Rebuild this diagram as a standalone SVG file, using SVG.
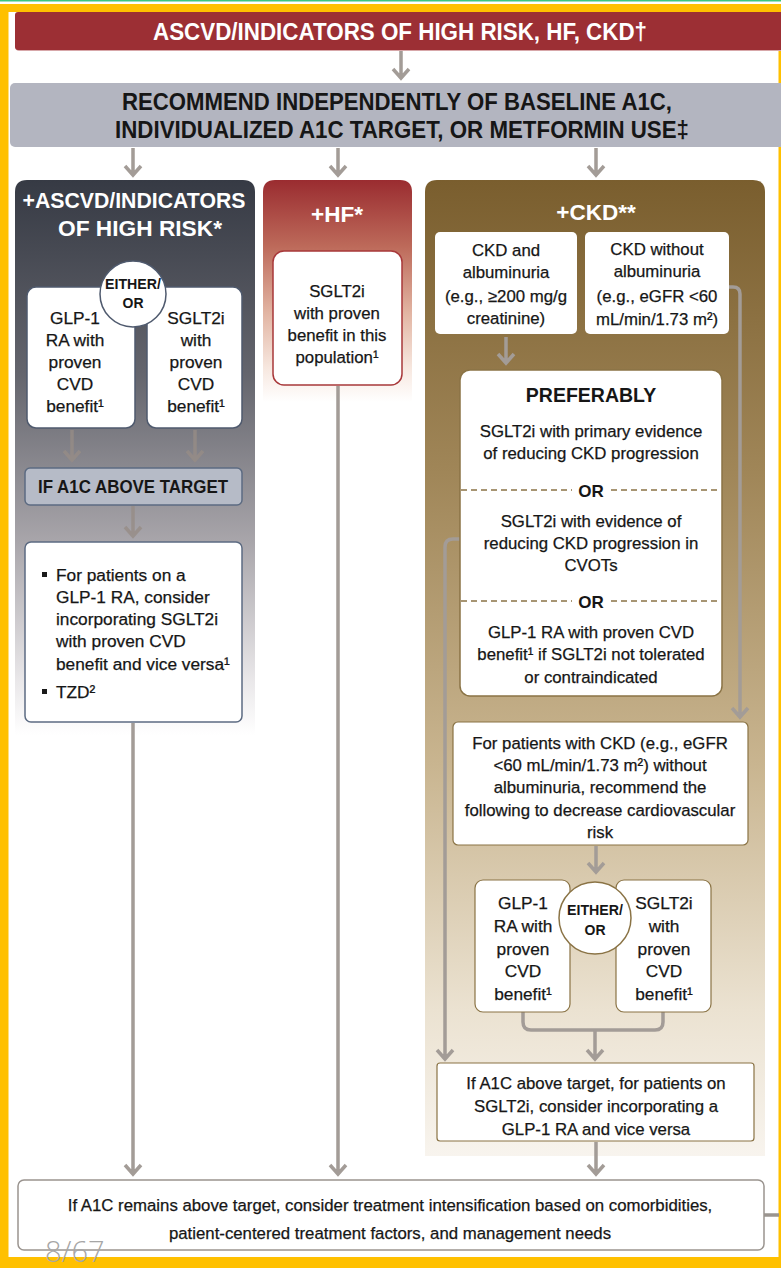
<svg xmlns="http://www.w3.org/2000/svg" width="781" height="1268" viewBox="0 0 781 1268">
<defs>
<linearGradient id="gL" x1="0" y1="0" x2="0" y2="1">
<stop offset="0" stop-color="#363a44"/><stop offset="0.35" stop-color="#64656d"/><stop offset="0.65" stop-color="#a8a5aa"/><stop offset="0.9" stop-color="#e9e7e9"/><stop offset="1" stop-color="#ffffff"/>
</linearGradient>
<linearGradient id="gM" x1="0" y1="0" x2="0" y2="1">
<stop offset="0" stop-color="#9a2c30"/><stop offset="0.3" stop-color="#bd6a5a"/><stop offset="0.6" stop-color="#e2b5a3"/><stop offset="0.85" stop-color="#f7e8e0"/><stop offset="1" stop-color="#ffffff"/>
</linearGradient>
<linearGradient id="gR" x1="0" y1="0" x2="0" y2="1">
<stop offset="0" stop-color="#7a5e2e"/><stop offset="0.3" stop-color="#a08658"/><stop offset="0.6" stop-color="#c9b590"/><stop offset="0.85" stop-color="#ebe2d1"/><stop offset="1" stop-color="#f8f4ee"/>
</linearGradient>
</defs>
<style>
text{font-family:"Liberation Sans",Arial,Helvetica,sans-serif;fill:#161616;}
.t{font-size:16.8px;text-anchor:middle;stroke:#161616;stroke-width:0.25px;}
.tl{font-size:17.3px;stroke:#161616;stroke-width:0.25px;}
.tb{font-size:17.3px;text-anchor:middle;stroke:#161616;stroke-width:0.25px;}
.b{font-weight:bold;}
.w{fill:#ffffff;font-weight:bold;text-anchor:middle;font-size:22.5px;}
.h{font-weight:bold;font-size:23px;text-anchor:middle;}
.c{font-weight:bold;font-size:14px;text-anchor:middle;}
.arr{fill:none;stroke:#a39c97;stroke-width:3.5;}
.arrd{fill:none;stroke:#968c86;stroke-width:3.5;opacity:0.8;}
.ln{fill:none;stroke:#a39c97;stroke-width:3.5;}
.dash{stroke:#8a7345;stroke-width:1.5;stroke-dasharray:6,4;}
</style>

<!-- frame -->
<rect x="0" y="0" width="781" height="1.5" fill="#3ec47e"/>
<rect x="0" y="4" width="781" height="8" fill="#ffc000"/>
<rect x="0" y="4" width="8.5" height="1264" fill="#ffc000"/>
<rect x="778.5" y="4" width="2.5" height="1264" fill="#ffc000"/>
<rect x="0" y="1257" width="781" height="11" fill="#ffc000"/>

<g id="top">
<rect x="16" y="13" width="770" height="38" rx="3" fill="#d7a7a9"/>
<rect x="15" y="12" width="770" height="38" rx="3" fill="#9c2f34"/>
<text class="h" x="400" y="40" style="fill:#ffffff" textLength="494" lengthAdjust="spacingAndGlyphs">ASCVD/INDICATORS OF HIGH RISK, HF, CKD†</text>
</g>

<g id="recommend">
<rect x="10" y="83" width="775" height="64" rx="5" fill="#b3b5c0"/>
<text class="h" x="397" y="110" textLength="550" lengthAdjust="spacingAndGlyphs">RECOMMEND INDEPENDENTLY OF BASELINE A1C,</text>
<text class="h" x="402" y="138" textLength="574" lengthAdjust="spacingAndGlyphs">INDIVIDUALIZED A1C TARGET, OR METFORMIN USE‡</text>
</g>

<!-- panels -->
<g id="panel-ascvd">
<path d="M15,735 V192 Q15,180 27,180 H243 Q255,180 255,192 V735 Z" fill="url(#gL)"/>
<text class="w" x="134" y="208" textLength="223" lengthAdjust="spacingAndGlyphs">+ASCVD/INDICATORS</text>
<text class="w" x="140" y="236" textLength="164" lengthAdjust="spacingAndGlyphs">OF HIGH RISK*</text>
</g>
<g id="panel-hf">
<path d="M263,402 V192 Q263,180 275,180 H400 Q412,180 412,192 V402 Z" fill="url(#gM)"/>
<text class="w" x="337" y="222">+HF*</text>
</g>
<g id="panel-ckd">
<path d="M425,1156 V192 Q425,180 437,180 H753 Q765,180 765,192 V1156 Z" fill="url(#gR)"/>
<text class="w" x="596" y="220">+CKD**</text>
</g>

<g id="connectors">
<path class="arr" d="M401,51 V78 M393,69 L401,78 L409,69"/>
<path class="arr" d="M133,148 V175 M125,166 L133,175 L141,166"/>
<path class="arr" d="M338,148 V175 M330,166 L338,175 L346,166"/>
<path class="arr" d="M596,148 V175 M588,166 L596,175 L604,166"/>
<path class="arrd" d="M72,430 V460 M64,451 L72,460 L80,451"/>
<path class="arrd" d="M195,430 V460 M187,451 L195,460 L203,451"/>
<path class="arrd" d="M133,506 V536 M125,527 L133,536 L141,527"/>
<path class="ln" d="M133,723 V1174 M125,1165 L133,1174 L141,1165"/>
<path class="ln" d="M338,386 V1174 M330,1165 L338,1174 L346,1165"/>
<path class="arr" d="M506,337 V363 M498,354 L506,363 L514,354"/>
<path class="ln" d="M729,287 H733 Q740,287 740,294 V717 M732,708 L740,717 L748,708"/>
<path class="ln" d="M460,539 H453 Q445,539 445,547 V1059 M437,1050 L445,1059 L453,1050"/>
<path class="arr" d="M596,846 V872 M588,863 L596,872 L604,863"/>
<path class="ln" d="M523,1012 V1022 Q523,1030 531,1030 H655 Q663,1030 663,1022 V1012"/>
<path class="arr" d="M595,1030 V1059 M587,1050 L595,1059 L603,1050"/>
<path class="ln" d="M596,1142 V1174 M588,1165 L596,1174 L604,1165"/>
<path class="ln" d="M764,1215 H779" style="stroke:#9a948f"/>
</g>

<g id="ascvd-glp1">
<rect x="27" y="287" width="108" height="141" rx="9" fill="#ffffff" stroke="#4f5a6e" stroke-width="1.5"/>
<text class="tb" x="75" y="324">GLP-1</text>
<text class="tb" x="75" y="346">RA with</text>
<text class="tb" x="75" y="368">proven</text>
<text class="tb" x="75" y="390">CVD</text>
<text class="tb" x="75" y="412">benefit¹</text>
</g>
<g id="ascvd-sglt2i">
<rect x="147" y="287" width="95" height="141" rx="9" fill="#ffffff" stroke="#4f5a6e" stroke-width="1.5"/>
<text class="tb" x="196" y="324">SGLT2i</text>
<text class="tb" x="196" y="346">with</text>
<text class="tb" x="196" y="368">proven</text>
<text class="tb" x="196" y="390">CVD</text>
<text class="tb" x="196" y="412">benefit¹</text>
</g>
<g id="ascvd-either">
<circle cx="133" cy="294" r="33" fill="#ffffff" stroke="#4f5a6e" stroke-width="1.5"/>
<text class="c" x="133" y="289" textLength="56" lengthAdjust="spacingAndGlyphs">EITHER/</text>
<text class="c" x="133" y="308">OR</text>
</g>
<g id="ascvd-if">
<rect x="25" y="468" width="217" height="37" rx="5" fill="#b6bbc7" stroke="#5c6b82" stroke-width="1.5"/>
<text class="b" x="133" y="493" style="font-size:17.5px;text-anchor:middle" textLength="190" lengthAdjust="spacingAndGlyphs">IF A1C ABOVE TARGET</text>
</g>
<g id="ascvd-options">
<rect x="25" y="542" width="217" height="180" rx="6" fill="#ffffff" stroke="#5c6b82" stroke-width="1.5"/>
<rect x="42" y="572" width="5" height="5" fill="#1a1a1a"/>
<text class="tl" x="56" y="581">For patients on a</text>
<text class="tl" x="56" y="603">GLP-1 RA, consider</text>
<text class="tl" x="56" y="625">incorporating SGLT2i</text>
<text class="tl" x="56" y="647">with proven CVD</text>
<text class="tl" x="56" y="670">benefit and vice versa¹</text>
<rect x="42" y="689" width="5" height="5" fill="#1a1a1a"/>
<text class="tl" x="56" y="698">TZD²</text>
</g>

<g id="hf-sglt2i">
<rect x="273" y="251" width="129" height="134" rx="11" fill="#ffffff" stroke="#a8383a" stroke-width="1.5"/>
<text class="t" x="337" y="297">SGLT2i</text>
<text class="t" x="337" y="319">with proven</text>
<text class="t" x="337" y="341">benefit in this</text>
<text class="t" x="337" y="363">population¹</text>
</g>

<g id="ckd-alb">
<rect x="435" y="232" width="142" height="102" rx="5" fill="#ffffff"/>
<text class="t" x="506" y="256">CKD and</text>
<text class="t" x="506" y="278">albuminuria</text>
<text class="t" x="506" y="302">(e.g., ≥200 mg/g</text>
<text class="t" x="506" y="324">creatinine)</text>
</g>
<g id="ckd-noalb">
<rect x="585" y="232" width="144" height="102" rx="5" fill="#ffffff"/>
<text class="t" x="657" y="255">CKD without</text>
<text class="t" x="657" y="277">albuminuria</text>
<text class="t" x="657" y="302">(e.g., eGFR &lt;60</text>
<text class="t" x="657" y="325">mL/min/1.73 m²)</text>
</g>
<g id="ckd-preferably">
<rect x="460" y="370" width="262" height="326" rx="10" fill="#ffffff" stroke="#8a7345" stroke-width="1.5"/>
<text class="b" x="591" y="402" style="font-size:19.5px;text-anchor:middle">PREFERABLY</text>
<text class="t" x="591" y="437">SGLT2i with primary evidence</text>
<text class="t" x="591" y="459">of reducing CKD progression</text>
<line class="dash" x1="461" y1="490" x2="572" y2="490"/>
<line class="dash" x1="611" y1="490" x2="721" y2="490"/>
<text class="b" x="591" y="497" style="font-size:17px;text-anchor:middle">OR</text>
<text class="t" x="591" y="527">SGLT2i with evidence of</text>
<text class="t" x="591" y="549">reducing CKD progression in</text>
<text class="t" x="591" y="571">CVOTs</text>
<line class="dash" x1="461" y1="601" x2="572" y2="601"/>
<line class="dash" x1="611" y1="601" x2="721" y2="601"/>
<text class="b" x="591" y="608" style="font-size:17px;text-anchor:middle">OR</text>
<text class="t" x="591" y="638">GLP-1 RA with proven CVD</text>
<text class="t" x="591" y="660">benefit¹ if SGLT2i not tolerated</text>
<text class="t" x="591" y="683">or contraindicated</text>
</g>
<g id="ckd-cv">
<rect x="453" y="722" width="295" height="123" rx="5" fill="#ffffff" stroke="#8a7345" stroke-width="1.2"/>
<text class="t" x="600" y="749">For patients with CKD (e.g., eGFR</text>
<text class="t" x="600" y="771">&lt;60 mL/min/1.73 m²) without</text>
<text class="t" x="600" y="793">albuminuria, recommend the</text>
<text class="t" x="600" y="816">following to decrease cardiovascular</text>
<text class="t" x="600" y="838">risk</text>
</g>
<g id="ckd-glp1">
<rect x="475" y="880" width="95" height="132" rx="8" fill="#ffffff" stroke="#8a7345" stroke-width="1.2"/>
<text class="tb" x="523" y="909">GLP-1</text>
<text class="tb" x="523" y="932">RA with</text>
<text class="tb" x="523" y="955">proven</text>
<text class="tb" x="523" y="977">CVD</text>
<text class="tb" x="523" y="1000">benefit¹</text>
</g>
<g id="ckd-sglt2i">
<rect x="616" y="880" width="95" height="132" rx="8" fill="#ffffff" stroke="#8a7345" stroke-width="1.2"/>
<text class="tb" x="664" y="909">SGLT2i</text>
<text class="tb" x="664" y="932">with</text>
<text class="tb" x="664" y="955">proven</text>
<text class="tb" x="664" y="977">CVD</text>
<text class="tb" x="664" y="1000">benefit¹</text>
</g>
<g id="ckd-either">
<circle cx="595" cy="918" r="36" fill="#ffffff" stroke="#8a7345" stroke-width="1.5"/>
<text class="c" x="595" y="915" textLength="56" lengthAdjust="spacingAndGlyphs">EITHER/</text>
<text class="c" x="595" y="935">OR</text>
</g>
<g id="ckd-if">
<rect x="437" y="1063" width="317" height="78" rx="3" fill="#ffffff" stroke="#8a7345" stroke-width="1.2"/>
<text class="t" x="596" y="1089">If A1C above target, for patients on</text>
<text class="t" x="596" y="1112">SGLT2i, consider incorporating a</text>
<text class="t" x="596" y="1135">GLP-1 RA and vice versa</text>
</g>

<g id="final">
<rect x="18" y="1180" width="746" height="70" rx="6" fill="#ffffff" stroke="#9a948f" stroke-width="1.5"/>
<text class="t" x="390" y="1211">If A1C remains above target, consider treatment intensification based on comorbidities,</text>
<text class="t" x="390" y="1239">patient-centered treatment factors, and management needs</text>
</g>

<text x="45" y="1262" style="font-family:'Open Sans','Liberation Sans',sans-serif;font-weight:300;font-size:29px;fill:#a6a6a6">8/67</text>
</svg>
